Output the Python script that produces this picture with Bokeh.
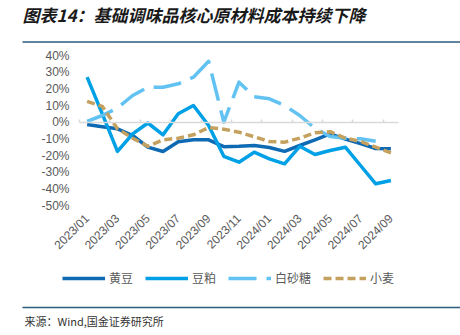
import math
import numpy as np
from bokeh.plotting import figure
from bokeh.models import (Range1d, FixedTicker, PrintfTickFormatter, Legend, LegendItem,
                          Label, BoxAnnotation, LinearAxis)
from bokeh.embed import file_html
from bokeh.resources import INLINE

months = ["2023/01", "2023/02", "2023/03", "2023/04", "2023/05", "2023/06", "2023/07",
          "2023/08", "2023/09", "2023/10", "2023/11", "2023/12", "2024/01", "2024/02",
          "2024/03", "2024/04", "2024/05", "2024/06", "2024/07", "2024/08", "2024/09"]

soybean = [-1.4, -2.7, -4.0, -8.0, -15.0, -17.6, -11.8, -10.6, -10.6, -14.7, -14.5,
           -14.0, -15.2, -17.5, -14.0, -10.6, -7.0, -10.2, -12.9, -15.8, -15.9]
soymeal = [27.0, 5.0, -17.5, -7.0, -0.5, -7.6, 5.0, 10.0, -2.0, -20.5, -24.0,
           -18.0, -22.0, -25.0, -14.5, -19.4, -17.0, -15.0, -26.0, -37.0, -35.0]
sugar = [0.5, 4.0, 8.5, 16.0, 21.0, 21.0, 23.0, 27.0, 36.5, 0.0, 24.0,
         15.3, 14.0, 10.0, 4.0, -3.7, -8.6, -9.6, -10.0, -11.5, float("nan")]
wheat = [12.5, 9.5, -4.0, -9.6, -14.5, -10.6, -9.6, -7.6, -3.2, -4.2, -6.0,
         -8.8, -11.6, -12.0, -9.6, -6.3, -5.7, -9.6, -11.6, -15.0, -18.4]

series_names = ["黄豆", "豆粕", "白砂糖", "小麦"]
y_ticks = [-50, -40, -30, -20, -10, 0, 10, 20, 30, 40]
title_text = "图表14：基础调味品核心原材料成本持续下降"
source_text = "来源：Wind,国金证券研究所"

W, H = 460, 335
# plot-area placement in pixels (frame covers the whole canvas)
FL, FR, FT, FB = 79, 398, 55, 205
n = len(months)
xs_per_px = n / (FR - FL)
ys_per_px = (max(y_ticks) - min(y_ticks)) / (FB - FT)
x0 = -0.5 - FL * xs_per_px
x1 = n - 0.5 + (W - FR) * xs_per_px
y1 = max(y_ticks) + FT * ys_per_px
y0 = min(y_ticks) - (H - FB) * ys_per_px

p = figure(width=W, height=H, output_backend="svg", toolbar_location=None,
           x_range=Range1d(x0, x1), y_range=Range1d(y0, y1),
           x_axis_type=None, y_axis_type=None,
           min_border=0, min_border_left=0, min_border_right=0,
           min_border_top=0, min_border_bottom=0,
           background_fill_color="white", border_fill_color="white")
p.outline_line_color = None
p.grid.visible = False

label_font = "Liberation Sans"
grey = "#595959"

# y axis (labels only), pinned at the left edge of the category span
yax = LinearAxis(fixed_location=-0.5, ticker=FixedTicker(ticks=y_ticks),
                 formatter=PrintfTickFormatter(format="%d%%"),
                 axis_line_color=None, major_tick_line_color=None,
                 minor_tick_line_color=None, major_tick_out=0, major_tick_in=0,
                 major_label_standoff=10, major_label_text_font=label_font,
                 major_label_text_font_size="12px", major_label_text_color=grey)
p.add_layout(yax, "left")

# x axis labels, pinned at the bottom value
tick_idx = list(range(0, n, 2))
xax = LinearAxis(fixed_location=min(y_ticks), ticker=FixedTicker(ticks=tick_idx),
                 major_label_overrides={i: months[i] for i in tick_idx},
                 major_label_orientation=math.pi / 4,
                 axis_line_color=None, major_tick_line_color=None,
                 minor_tick_line_color=None, major_tick_out=0, major_tick_in=0,
                 major_label_standoff=11, major_label_text_font=label_font,
                 major_label_text_font_size="12px", major_label_text_color=grey)
p.add_layout(xax, "below")

# zero line with ticks at category boundaries
zax = LinearAxis(fixed_location=0, bounds=(-0.5, n - 0.5),
                 ticker=FixedTicker(ticks=list(np.arange(-0.5, n, 2.0))),
                 axis_line_color="#D9D9D9", axis_line_width=1.5,
                 major_tick_line_color="#D9D9D9", major_tick_line_width=1.5,
                 major_tick_in=3, major_tick_out=0, minor_tick_line_color=None,
                 major_label_text_font_size="0px", major_label_text_alpha=0)
p.add_layout(zax, "below")

colors = ["#0F6AB4", "#00A0E6", "#62C2F2", "#C4A15E"]
dashes = ["solid", "solid", "28 10", "8 4"]
data = [soybean, soymeal, sugar, wheat]
x = list(range(n))
renderers = []
for vals, c, d in zip(data, colors, dashes):
    r = p.line(x, vals, line_color=c, line_width=3.5, line_dash=d,
               line_join="round", line_cap="butt")
    renderers.append(r)

legend = Legend(items=[LegendItem(label=s, renderers=[r]) for s, r in zip(series_names, renderers)],
                orientation="horizontal", location=(62, H - 279 - 7),
                border_line_color=None, background_fill_alpha=0,
                label_text_font="Noto Sans CJK SC", label_text_font_size="12px",
                label_text_color=grey, glyph_width=43, glyph_height=14,
                label_height=14, label_standoff=4, spacing=12, padding=0, margin=0)
p.add_layout(legend, "center")

# title and rules
p.add_layout(Label(x=22, y=H - 14, x_units="screen", y_units="screen", text=title_text,
                   text_font="Noto Sans CJK SC", text_font_style="bold italic",
                   text_font_size="17px", text_color="#1A1A1A", text_baseline="middle"))
rule_color = "#2E5B7E"
p.add_layout(BoxAnnotation(left=22, right=W, bottom=H - 42.3, top=H - 40.8,
                           left_units="screen", right_units="screen",
                           bottom_units="screen", top_units="screen",
                           fill_color=rule_color, fill_alpha=1, line_alpha=0))
p.add_layout(BoxAnnotation(left=22, right=W, bottom=H - 307.7, top=H - 306.3,
                           left_units="screen", right_units="screen",
                           bottom_units="screen", top_units="screen",
                           fill_color=rule_color, fill_alpha=1, line_alpha=0))
p.add_layout(Label(x=24, y=H - 320, x_units="screen", y_units="screen", text=source_text,
                   text_font="Noto Sans CJK SC", text_font_size="11px",
                   text_color="#333333", text_baseline="middle"))

open("out.html", "w").write(file_html(p, INLINE))
